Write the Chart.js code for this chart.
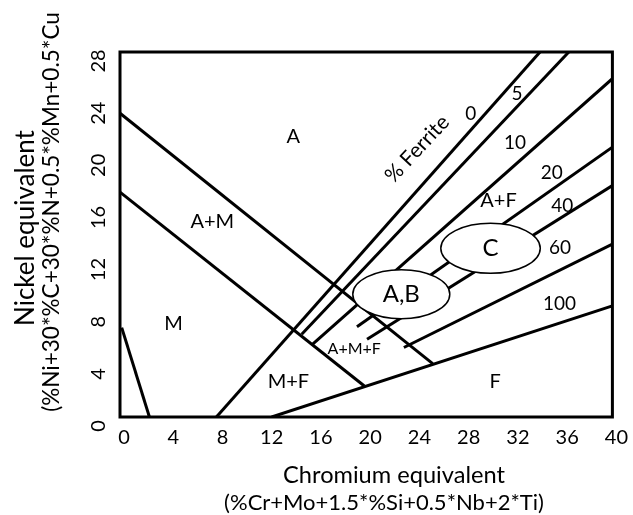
<!DOCTYPE html>
<html>
<head>
<meta charset="utf-8">
<script src="https://cdn.jsdelivr.net/npm/chart.js@4.4.1/dist/chart.umd.min.js"></script>
<style>
  html, body { margin: 0; padding: 0; background: #fff; }
  #wrap { width: 633px; height: 515px; }
</style>
</head>
<body>
<div id="wrap"><canvas id="schaeffler"></canvas></div>
<script>
// Schaeffler diagram, Cr-eq on x, Ni-eq on y
var crTicks = [0, 4, 8, 12, 16, 20, 24, 28, 32, 36, 40];
var niTicks = [0, 4, 8, 12, 16, 20, 24, 28];

// phase boundaries, [Cr eq, Ni eq] end points
var austeniteLine = [[0, 23.3], [25.4, 4.1]];
var martensiteLine = [[0, 17.25], [19.85, 2.38]];
var martensiteCorner = [[0.14, 6.86], [2.39, 0]];
var ferrite0 = [[7.83, 0], [34.12, 28]];
var ferrite5 = [[14.76, 6.35], [36.46, 28]];
var ferrite10 = [[15.63, 5.58], [40, 25.95]];
var ferrite20 = [[19.25, 6.92], [40, 20.7]];
var ferrite40 = [[20.07, 5.97], [40, 17.75]];
var ferrite60 = [[23.06, 5.33], [40, 13.27]];
var ferrite100 = [[12.32, 0], [40, 8.53]];

// weld zones drawn as ellipses
var zoneNames = ["A,B", "C"];
var zoneCr = [22.85, 30.1];
var zoneNi = [9.42, 12.94];
var zoneCrRadius = [3.94, 4.04];
var zoneNiRadius = [1.88, 1.92];

// region names
var regionNames = ["A", "A+M", "M", "M+F", "F", "A+F"];
var regionCr = [14.08, 7.5, 4.35, 13.68, 30.48, 30.75];
var regionNi = [21.52, 15.01, 7.17, 2.69, 2.69, 16.6];

// ferrite percentage labels
var ferriteNames = ["0", "5", "10", "20", "40", "60", "100"];
var ferriteCr = [28.49, 32.25, 32.08, 35.07, 35.92, 35.75, 35.7];
var ferriteNi = [23.26, 24.8, 21.0, 18.72, 16.16, 12.96, 8.71];

var xTitle = ["Chromium equivalent", "(%Cr+Mo+1.5*%Si+0.5*Nb+2*Ti)"];
var yTitle = ["Nickel equivalent", "(%Ni+30*%C+30*%N+0.5*%Mn+0.5*Cu"];

var FONT = "Lato, 'Open Sans', sans-serif";

function toPoints(arr) {
    return arr.map(function (p) { return { x: p[0], y: p[1] }; });
}

var boundaries = [austeniteLine, martensiteLine, martensiteCorner, ferrite0, ferrite5,
    ferrite10, ferrite20, ferrite40, ferrite60, ferrite100];

var datasets = boundaries.map(function (b) {
    return {
        data: toPoints(b),
        showLine: true,
        borderColor: "#000",
        borderWidth: 3,
        pointRadius: 0,
        pointHoverRadius: 0,
        fill: false
    };
});

function drawText(ctx, txt, px, py, size, rot) {
    ctx.save();
    ctx.translate(px, py);
    if (rot) ctx.rotate(rot);
    ctx.font = size + "px " + FONT;
    ctx.fillStyle = "#000";
    ctx.textAlign = "center";
    ctx.textBaseline = "middle";
    ctx.fillText(txt, 0, 0);
    ctx.restore();
}

// pick a font size so the text spans the wanted length
function fitText(ctx, txt, px, py, len, rot) {
    ctx.save();
    ctx.font = "100px " + FONT;
    var size = 100 * len / ctx.measureText(txt).width;
    ctx.restore();
    drawText(ctx, txt, px, py, size, rot);
}

var overlay = {
    id: "overlay",
    afterDatasetsDraw: function (chart) {
        var ctx = chart.ctx, a = chart.chartArea;
        var xs = chart.scales.x, ys = chart.scales.y;
        var i;
        ctx.save();
        // ellipses cover the lines behind them
        for (i = 0; i < zoneNames.length; i++) {
            var cx = xs.getPixelForValue(zoneCr[i]);
            var cy = ys.getPixelForValue(zoneNi[i]);
            var rx = xs.getPixelForValue(zoneCr[i] + zoneCrRadius[i]) - cx;
            var ry = cy - ys.getPixelForValue(zoneNi[i] + zoneNiRadius[i]);
            ctx.beginPath();
            ctx.ellipse(cx, cy, rx, ry, 0, 0, 2 * Math.PI);
            ctx.fillStyle = "#fff";
            ctx.fill();
            ctx.lineWidth = 1.5;
            ctx.strokeStyle = "#000";
            ctx.stroke();
            drawText(ctx, zoneNames[i], cx, cy, 24);
        }
        // frame
        ctx.lineWidth = 3;
        ctx.strokeStyle = "#000";
        ctx.strokeRect(a.left, a.top, a.right - a.left, a.bottom - a.top);
        ctx.restore();

        for (i = 0; i < regionNames.length; i++) {
            drawText(ctx, regionNames[i], xs.getPixelForValue(regionCr[i]), ys.getPixelForValue(regionNi[i]), 20);
        }
        drawText(ctx, "A+M+F", xs.getPixelForValue(19.03), ys.getPixelForValue(5.2), 16);
        for (i = 0; i < ferriteNames.length; i++) {
            drawText(ctx, ferriteNames[i], xs.getPixelForValue(ferriteCr[i]), ys.getPixelForValue(ferriteNi[i]), 19);
        }
        drawText(ctx, "% Ferrite", xs.getPixelForValue(24.14), ys.getPixelForValue(20.57), 21, -47 * Math.PI / 180);

        // axis titles sit off-centre in the original, so they are placed here
        fitText(ctx, xTitle[0], 394, 475, 222);
        fitText(ctx, xTitle[1], 384, 503, 320);
        drawText(ctx, yTitle[0], 26, 228, 26, -Math.PI / 2);
        fitText(ctx, yTitle[1], 52, 212, 400, -Math.PI / 2);
    }
};

new Chart(document.getElementById("schaeffler").getContext("2d"), {
    type: "scatter",
    data: { datasets: datasets },
    options: {
        responsive: true,
        maintainAspectRatio: false,
        animation: false,
        events: [],
        layout: { padding: { left: 0, top: 52, right: 14, bottom: 0 } },
        plugins: {
            legend: { display: false },
            tooltip: { enabled: false }
        },
        scales: {
            x: {
                type: "linear",
                min: 0,
                max: 40,
                afterFit: function (s) { s.height = 98; },
                afterBuildTicks: function (s) {
                    s.ticks = crTicks.map(function (v) { return { value: v }; });
                },
                grid: { display: false, drawTicks: false },
                border: { display: false },
                ticks: {
                    color: "#000",
                    padding: 9,
                    labelOffset: 4,
                    font: { family: FONT, size: 20 }
                }
            },
            y: {
                type: "linear",
                min: 0,
                max: 28,
                afterFit: function (s) { s.width = 120; },
                afterBuildTicks: function (s) {
                    s.ticks = niTicks.map(function (v) { return { value: v }; });
                },
                grid: { display: false, drawTicks: false },
                border: { display: false },
                ticks: {
                    color: "#000",
                    padding: 10,
                    minRotation: 90,
                    maxRotation: 90,
                    crossAlign: "center",
                    labelOffset: 9,
                    font: { family: FONT, size: 20 }
                }
            }
        }
    },
    plugins: [overlay]
});
</script>
</body>
</html>
